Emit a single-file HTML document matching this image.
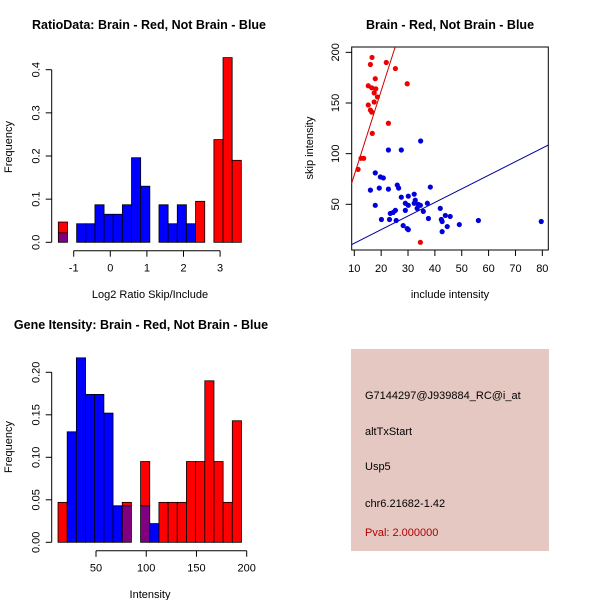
<!DOCTYPE html>
<html><head><meta charset="utf-8"><style>
body{margin:0;background:#fff}
svg{display:block;font-family:"Liberation Sans",sans-serif}
.t{font-weight:bold;font-size:12.5px}
.l{font-size:11px}
</style></head><body>
<svg id="s" width="600" height="600" viewBox="0 0 600 600">
<defs><clipPath id="bx"><rect x="351.7" y="47" width="196.6" height="203"/></clipPath></defs>
<text class="t" x="149" y="29" text-anchor="middle">RatioData: Brain - Red, Not Brain - Blue</text>
<text class="t" x="450" y="29" text-anchor="middle">Brain - Red, Not Brain - Blue</text>
<text class="t" x="141" y="329" text-anchor="middle">Gene Itensity: Brain - Red, Not Brain - Blue</text>
<text class="l" x="150" y="298" text-anchor="middle">Log2 Ratio Skip/Include</text>
<text class="l" transform="translate(12,147) rotate(-90)" text-anchor="middle">Frequency</text>
<text class="l" x="450" y="298" text-anchor="middle">include intensity</text>
<text class="l" transform="translate(313,148) rotate(-90)" text-anchor="middle">skip intensity</text>
<text class="l" x="150" y="598" text-anchor="middle">Intensity</text>
<text class="l" transform="translate(12,447) rotate(-90)" text-anchor="middle">Frequency</text>
<g>
<rect x="351" y="349" width="198" height="202" fill="#e5c8c1"/>
<text class="l" x="365" y="399">G7144297@J939884_RC@i_at</text>
<text class="l" x="365" y="435">altTxStart</text>
<text class="l" x="365" y="470">Usp5</text>
<text class="l" x="365" y="507">chr6.21682-1.42</text>
<text class="l" x="365" y="536" fill="#b00000">Pval: 2.000000</text>
</g>
</svg>
<script>
// Ratio histogram
const ratioBreakStart = -1.42, ratioBinW = 0.25;
const ratioRed  = [0.047,0,0,0,0,0,0,0,0,0,0,0,0,0,0,0.095,0,0.238,0.428,0.19];
const ratioBlue = [0.022,0,0.043,0.043,0.087,0.065,0.065,0.087,0.196,0.13,0,0.087,0.043,0.087,0.043,0,0,0,0,0];
const ratioXTicks = [-1,0,1,2,3];
const ratioYTicks = [0,0.1,0.2,0.3,0.4];
// Intensity histogram
const intBreakStart = 12.2, intBinW = 9.13;
const intRed  = [0.047,0,0,0,0,0,0,0.047,0,0.095,0,0.047,0.047,0.047,0.095,0.095,0.19,0.095,0.047,0.143];
const intBlue = [0,0.13,0.217,0.174,0.174,0.152,0.043,0.043,0,0.043,0.022,0,0,0,0,0,0,0,0,0];
const intXTicks = [50,100,150,200];
const intYTicks = ["0.00","0.05","0.10","0.15","0.20"];
// Scatter
const redX = [16.6,16.0,21.9,25.3,17.8,29.7,15.2,16.5,18.0,17.4,18.6,17.4,15.2,16.0,16.5,22.7,16.7,12.5,13.5,11.4,34.6];
const redY = [195,188,190,184,174,169,167,165,164,160,156,151,148,143,141,130,120,95.4,95.4,84.5,12.5];
const blueX = [34.7,22.7,27.5,17.8,19.7,20.8,19.3,22.7,26,26.5,16,38.3,27.5,30.1,32.3,17.8,29,30.1,32.3,32.7,33.8,34.6,37.2,33.4,35.7,29,42,25.3,24.5,23.4,20.1,23.1,25.6,37.6,43.9,45.7,42.4,42.7,49.1,56.2,79.6,28.2,29.7,30.1,44.6,42.7];
const blueY = [112.5,103.6,103.6,81,77,76,66,65,69,66,64,67,57,58,60,49,51,49,51,54,50,49,51,46,43,44,46,44,42,41,35,35,34,36,39,38,35,33,30,34,33,29,26,25,28,23];
const redFit = [-4, 8.3];     // intercept, slope
const blueFit = [-1.9, 1.343];
const scXTicks = [10,20,30,40,50,60,70,80];
const scYTicks = [50,100,150,200];

const svg = document.getElementById('s');
const NS = 'http://www.w3.org/2000/svg';
function mk(tag, attrs, parent){const e=document.createElementNS(NS,tag);for(const k in attrs)e.setAttribute(k,attrs[k]);(parent||svg).appendChild(e);return e;}

function hist(red, blue, start, w, xs, ys, xTicks, yTicks, x0px, yAxisY, prefix){
  const g = mk('g',{});
  
  
  for(let i=0;i<red.length;i++){
    const r=red[i], b=blue[i], xl=xs(start+i*w), xr=xs(start+(i+1)*w);
    const segs=[];
    if(r>0&&b>0){const m=Math.min(r,b);segs.push([0,m,'#800080']);if(r>m)segs.push([m,r,'#ff0000']);if(b>m)segs.push([m,b,'#0000ff']);}
    else if(r>0)segs.push([0,r,'#ff0000']);
    else if(b>0)segs.push([0,b,'#0000ff']);
    segs.forEach(s=>{
      const rc=mk('rect',{x:xl,y:ys(s[1]),width:xr-xl,height:ys(s[0])-ys(s[1]),fill:s[2],stroke:'#000','stroke-width':0.8},g);
      
      
    });
  }
  const ax = mk('g',{stroke:'#000','stroke-width':1,fill:'none'});
  
  
  mk('line',{x1:xs(xTicks[0]),x2:xs(xTicks[xTicks.length-1]),y1:yAxisY,y2:yAxisY},ax);
  xTicks.forEach(t=>{mk('line',{x1:xs(t),x2:xs(t),y1:yAxisY,y2:yAxisY+6},ax);
    const tx=mk('text',{x:xs(t),y:yAxisY+21,'text-anchor':'middle','font-size':11});tx.textContent=t;
    
    });
  mk('line',{x1:x0px,x2:x0px,y1:ys(+yTicks[0]),y2:ys(+yTicks[yTicks.length-1])},ax);
  yTicks.forEach(t=>{const y=ys(+t);mk('line',{x1:x0px-6,x2:x0px,y1:y,y2:y},ax);
    const tx=mk('text',{transform:`translate(${x0px-12},${y}) rotate(-90)`,'text-anchor':'middle','font-size':11});tx.textContent=t;
    
    });
}
hist(ratioRed, ratioBlue, ratioBreakStart, ratioBinW, v=>73.7+(v+1)*36.6, v=>242.3-v*431.5,
  ratioXTicks, ratioYTicks.map(v=>v.toFixed(1)), 51.7, 250.7, 'ratio');
hist(intRed, intBlue, intBreakStart, intBinW, v=>96+(v-50)*1.0047, v=>542.3-v*850,
  intXTicks, intYTicks, 51.7, 550.7, 'intensity');

// scatter
const sx=v=>354.3+(v-10)*2.686, sy=v=>204.3-(v-50)*1.013;
const sg=mk('g',{});


mk('rect',{x:351.7,y:47,width:196.6,height:203,fill:'none',stroke:'#000'},sg);
const lg=mk('g',{'clip-path':'url(#bx)'},sg);
[[redFit,'#cc0000','red-fit-line'],[blueFit,'#00009a','blue-fit-line']].forEach(f=>{
  const l=mk('line',{x1:sx(0),y1:sy(f[0][0]),x2:sx(100),y2:sy(f[0][0]+f[0][1]*100),stroke:f[1],'stroke-width':1},lg);
  
  
});
redX.forEach((x,i)=>{const c=mk('circle',{cx:sx(x),cy:sy(redY[i]),r:2.6,fill:'#ee0000'},sg);
  
  });
blueX.forEach((x,i)=>{const c=mk('circle',{cx:sx(x),cy:sy(blueY[i]),r:2.6,fill:'#0000dd'},sg);
  
  });
scXTicks.forEach(t=>{mk('line',{x1:sx(t),x2:sx(t),y1:250,y2:256,stroke:'#000'},sg);
  const tx=mk('text',{x:sx(t),y:272,'text-anchor':'middle','font-size':11},sg);tx.textContent=t;
  
  });
scYTicks.forEach(t=>{mk('line',{x1:345.7,x2:351.7,y1:sy(t),y2:sy(t),stroke:'#000'},sg);
  const tx=mk('text',{transform:`translate(339,${sy(t)}) rotate(-90)`,'text-anchor':'middle','font-size':11},sg);tx.textContent=t;
  
  });
</script>
</body></html>
